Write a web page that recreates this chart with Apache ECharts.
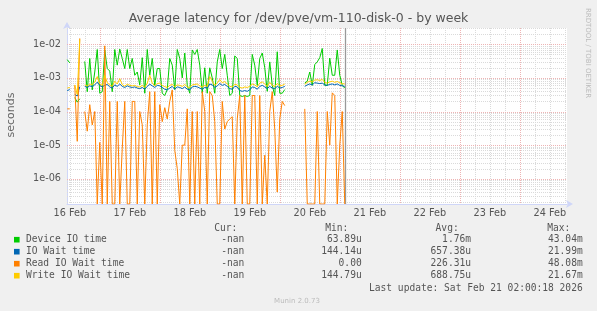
<!DOCTYPE html>
<html><head><meta charset="utf-8">
<script src="https://cdn.jsdelivr.net/npm/echarts@6/dist/echarts.min.js"></script>
<style>html,body{margin:0;padding:0;background:#F0F0F0}#c{width:597px;height:311px}</style>
</head><body><div id="c"></div><script>
// hours since 16 Feb 00:00, one sample per hour starting at hour 11
const startHour = 11;
const dayLabels = ['16 Feb','17 Feb','18 Feb','19 Feb','20 Feb','21 Feb','22 Feb','23 Feb','24 Feb'];
const labelHours = [12, 36, 60, 84, 108, 132, 156, 180, 204];
const yTickLabels = ['1e-06','1e-05','1e-04','1e-03','1e-02'];

const deviceIO = [3.5e-3, 2.8e-3, null, 2.6e-4, 1.9e-4, 2.4e-4, null,
 3.1e-3, 3.9e-4, 3.8e-3, 4.4e-4, 1.5e-3, 7e-3, 3.5e-4, 3.9e-4, 6.8e-3, 1.9e-3,
 1.6e-3, 3.9e-4, 7e-3, 2.4e-3, 7.2e-3, 3.8e-3, 1.9e-3, 7e-3, 1.9e-3, 3.8e-3,
 1.2e-3, 1.5e-3, 6.2e-4, 4e-3, 3.5e-4, 7e-3, 1.2e-3, 3.8e-3, 6e-4, 1.9e-3,
 1.9e-3, 3.5e-4, 3e-4, 4.5e-4, 3.8e-3, 2.4e-3, 4.5e-4, 7e-3, 3.8e-3, 1e-3,
 5.5e-3, 6e-4, 3.5e-4, 6.8e-3, 5e-3, 7e-3, 2.4e-3, 3.5e-4, 2e-3, 3.5e-4,
 2e-3, 1e-3, 3.5e-4, 3e-3, 7e-3, 1.9e-3, 5e-3, 1.2e-3, 3e-4, 3.5e-4,
 4.5e-3, 3.8e-3, 3e-4, 2.8e-4, 3e-4, 2.8e-4, 3e-4, 5e-3, 2.4e-3, 6e-4,
 3.8e-3, 5.5e-3, 2e-3, 4e-4, 3e-3, 6e-4, 3e-4, 6e-3, 3.5e-4, 3.5e-4, 4.5e-4,
 null, null, null, null, null, null, null,
 7e-4, 8e-4, 1.5e-3, 6e-4, 2.5e-3, 3e-3, 4e-3, 7.5e-3, 6e-4, 6e-4, 3.9e-3, 1.2e-3, 1.2e-3, 6.8e-3, 1.2e-3, 6e-4, 5e-4];

const ioWait = [4.2e-4, 4.5e-4, null, 3.2e-4, 2.9e-4, 5.5e-4, null,
 5.6e-4, 5.2e-4, 5.8e-4, 5.5e-4, 6.2e-4, 7.5e-4, 6e-4, 5.4e-4, 6e-4, 6.4e-4,
 5.4e-4, 5e-4, 6.2e-4, 5.6e-4, 6.6e-4, 5.6e-4, 5.2e-4, 5.8e-4, 5.4e-4, 5.2e-4,
 5.4e-4, 5e-4, 4.8e-4, 5.2e-4, 4.6e-4, 5.6e-4, 6.5e-4, 5.8e-4, 5.2e-4, 6e-4,
 5.8e-4, 5.2e-4, 4.6e-4, 4.4e-4, 5e-4, 5.6e-4, 4.6e-4, 5.4e-4, 5.2e-4, 4.8e-4,
 5.4e-4, 4.6e-4, 4.4e-4, 5.4e-4, 5.6e-4, 5.4e-4, 5e-4, 4.6e-4, 5.2e-4, 5e-4,
 6.6e-4, 6.2e-4, 5.2e-4, 5.8e-4, 6.8e-4, 6e-4, 6.4e-4, 5.6e-4, 4.8e-4, 4.6e-4,
 5.6e-4, 5.4e-4, 4.2e-4, 4e-4, 4.2e-4, 4e-4, 4.4e-4, 5.4e-4, 5.2e-4, 4.6e-4,
 5.6e-4, 6e-4, 5.4e-4, 4.8e-4, 5.6e-4, 5e-4, 4.8e-4, 5.6e-4, 5e-4, 5.2e-4, 5.6e-4,
 null, null, null, null, null, null, null,
 5.6e-4, 6.2e-4, 6.6e-4, 6.2e-4, 7.2e-4, 7e-4, 6.8e-4, 7e-4, 6.2e-4, 6e-4, 6.4e-4, 6.6e-4, 6.2e-4, 6.6e-4, 6e-4, 5.8e-4, 5.6e-4];

const readWait = [1.2e-4, 1.2e-4, null, 6e-4, 1.3e-5, 1.5e-2, null,
 1e-4, 2.6e-5, 1.6e-4, 4e-5, 1e-4, 0, 1.2e-5, 0, 9e-3, 0,
 2e-4, 0, 0, 2e-4, 0, 8e-6, 2e-4, 0, 0, 2e-4,
 2e-4, 0, 1e-4, 4e-5, 0, 4e-5, 3.9e-4, 0, 3.9e-4, 0,
 1.6e-4, 5e-5, 1.3e-4, 6e-5, 2e-4, 4.4e-4, 7e-6, 2e-6, 0, 1e-5,
 1e-5, 1.2e-4, 0, 1e-4, 0, 1e-4, 0, 3.9e-4, 1e-4, 0,
 3.9e-4, 3e-4, 5e-5, 0, 0, 2e-4, 3e-5, 5e-5, 6e-5, 7e-5,
 0, 6e-5, 3e-4, 0, 3e-4, 0, 0, 3e-4, 3e-4, 0,
 3e-4, 0, 5e-6, 0, 1e-4, 3.9e-4, 3e-5, 4e-7, 6e-5, 2e-4, 1.5e-4,
 null, null, null, null, null, null, null,
 1.2e-4, 0, 0, 0, 0, 1e-4, 0, 0, 0, 1e-4, 1e-5, 3.6e-4, 3e-4, 0, 1e-5, 1e-4, 0];

const writeWait = [5e-4, 5.2e-4, null, 6.2e-4, 3.2e-4, 1.4e-2, null,
 6.2e-4, 5.8e-4, 6.5e-4, 6.4e-4, 7.5e-4, 1.1e-3, 6.6e-4, 6e-4, 1.2e-3, 7.2e-4,
 6.2e-4, 5.6e-4, 8e-4, 6.6e-4, 9.5e-4, 6.3e-4, 5.7e-4, 6.5e-4, 6e-4, 5.8e-4,
 6e-4, 5.5e-4, 5.4e-4, 6e-4, 5.2e-4, 7e-4, 1.2e-3, 7e-4, 5.8e-4, 6.8e-4,
 7e-4, 6e-4, 5.5e-4, 5.2e-4, 6e-4, 6.4e-4, 5.5e-4, 6.2e-4, 6e-4, 5.6e-4,
 6.4e-4, 5.4e-4, 5.2e-4, 6.2e-4, 6.4e-4, 6.6e-4, 5.8e-4, 5.4e-4, 6e-4, 5.6e-4,
 1.1e-3, 8e-4, 6e-4, 7e-4, 9e-4, 7.2e-4, 7.8e-4, 6.6e-4, 5.6e-4, 5.4e-4,
 6.4e-4, 6.2e-4, 5.2e-4, 5e-4, 5.4e-4, 5.2e-4, 5.6e-4, 6.6e-4, 6.2e-4, 5.4e-4,
 7e-4, 7.6e-4, 6.6e-4, 5.6e-4, 7.4e-4, 6e-4, 5.6e-4, 6.8e-4, 5.8e-4, 6e-4, 6.6e-4,
 null, null, null, null, null, null, null,
 6.4e-4, 7.4e-4, 8e-4, 7.6e-4, 8.6e-4, 8.8e-4, 8.4e-4, 9e-4, 7.4e-4, 7e-4, 7.6e-4, 8e-4, 7.4e-4, 7.8e-4, 7.2e-4, 6.8e-4, 6.6e-4];

const seriesNames = ['Device IO time','IO Wait time','Read IO Wait time','Write IO Wait time'];
const seriesColors = ['#00CC00','#0066B3','#FF8000','#FFCC00'];
const curVals = ['-nan','-nan','-nan','-nan'];
const minVals = ['63.89u','144.14u','0.00','144.79u'];
const avgVals = ['1.76m','657.38u','226.31u','688.75u'];
const maxVals = ['43.04m','21.99m','48.08m','21.67m'];
const lastUpdate = 'Last update: Sat Feb 21 02:00:18 2026';
const nowHour = 122.3;

const X_MIN = 10.9, X_MAX = 210.9, Y_MIN = 1.77e-7, Y_MAX = 3.06e-2;
const G_LEFT = 67, G_TOP = 28, G_W = 500, G_H = 176;

function toPairs(arr){
  return arr.map((v,i)=>[startHour+i, v===null ? null : Math.max(v, Y_MIN)]);
}
const allSeries = [deviceIO, ioWait, readWait, writeWait];

// grid line positions: kind 1 = minor, 2 = major, 3 = "now" rule
const vLines = [];
for (let h = 6; h < X_MAX; h += 6) {
  if (h <= X_MIN) continue;
  vLines.push([h, Y_MIN, (h % 24 === 0) ? 2 : 1]);
}
vLines.push([nowHour, Y_MIN, 3]);
const hLines = [];
for (let e = -7; e <= -2; e++) {
  for (let m = 1; m <= 9; m++) {
    const v = m * Math.pow(10, e);
    if (v <= Y_MIN || v >= Y_MAX) continue;
    hLines.push([X_MIN, v, m === 1 ? 2 : 1]);
  }
}
const MINOR = '#dadada', MAJOR = '#eeb4b4';
function lineStyleFor(kind){
  if (kind === 3) return {stroke:'#999999', lineWidth:1.3};
  return {stroke: kind === 2 ? MAJOR : MINOR, lineWidth:1, lineDash:[1,1]};
}

const FONT = 'DejaVu Sans';
const MONO = 'DejaVu Sans Mono';
const TXT = '#555';

const graphics = [
  {type:'text', left:'center', top:12, style:{text:'Average latency for /dev/pve/vm-110-disk-0 - by week', font:'12.5px "'+FONT+'"', fill:TXT}},
  {type:'text', x:11, y:115, rotation:Math.PI/2, style:{text:'seconds', font:'11px "'+FONT+'"', fill:'#666', align:'center', verticalAlign:'middle'}},
  {type:'text', x:588, y:53, rotation:-Math.PI/2, style:{text:'RRDTOOL / TOBI OETIKER', font:'7px "'+FONT+'"', fill:'#bbb', align:'center', verticalAlign:'middle'}},
  {type:'text', x:297, y:301, style:{text:'Munin 2.0.73', font:'7px "'+FONT+'"', fill:'#bbb', align:'center', verticalAlign:'middle'}},
  {type:'text', x:237.3, y:228, style:{text:'Cur:', font:'9.6px "'+MONO+'"', fill:TXT, align:'right', verticalAlign:'middle'}},
  {type:'text', x:348.3, y:228, style:{text:'Min:', font:'9.6px "'+MONO+'"', fill:TXT, align:'right', verticalAlign:'middle'}},
  {type:'text', x:458.7, y:228, style:{text:'Avg:', font:'9.6px "'+MONO+'"', fill:TXT, align:'right', verticalAlign:'middle'}},
  {type:'text', x:570.3, y:228, style:{text:'Max:', font:'9.6px "'+MONO+'"', fill:TXT, align:'right', verticalAlign:'middle'}},
  {type:'text', x:582.7, y:288, style:{text:lastUpdate, font:'9.6px "'+MONO+'"', fill:TXT, align:'right', verticalAlign:'middle'}}
];
seriesNames.forEach((n,i)=>{
  const y = 239.7 + i*12;
  graphics.push({type:'rect', shape:{x:14, y:y-2.8, width:5.6, height:5.6}, style:{fill:seriesColors[i]}});
  graphics.push({type:'text', x:26, y:y, style:{text:n, font:'9.6px "'+MONO+'"', fill:TXT, verticalAlign:'middle'}});
  graphics.push({type:'text', x:244.3, y:y, style:{text:curVals[i], font:'9.6px "'+MONO+'"', fill:TXT, align:'right', verticalAlign:'middle'}});
  graphics.push({type:'text', x:361.7, y:y, style:{text:minVals[i], font:'9.6px "'+MONO+'"', fill:TXT, align:'right', verticalAlign:'middle'}});
  graphics.push({type:'text', x:471, y:y, style:{text:avgVals[i], font:'9.6px "'+MONO+'"', fill:TXT, align:'right', verticalAlign:'middle'}});
  graphics.push({type:'text', x:582.7, y:y, style:{text:maxVals[i], font:'9.6px "'+MONO+'"', fill:TXT, align:'right', verticalAlign:'middle'}});
});

const chart = echarts.init(document.getElementById('c'), null, {renderer:'canvas'});
const dataSeries = allSeries.map((arr,i)=>({
  name: seriesNames[i], type:'line', data: toPairs(arr), showSymbol:false, symbol:'none',
  connectNulls:false, clip:true, z: 3 + i, animation:false,
  lineStyle:{color:seriesColors[i], width:1}, itemStyle:{color:seriesColors[i]}
}));
const gridSeries = [
  {type:'custom', silent:true, z:1, animation:false, data:vLines, encode:{x:0, y:1},
    renderItem:(params, api)=>{
      const h = api.value(0), kind = api.value(2);
      const a = api.coord([h, Y_MAX]), b = api.coord([h, Y_MIN]);
      const x = Math.round(a[0]) + 0.5;
      return {type:'line', shape:{x1:x, y1:a[1], x2:x, y2:b[1]}, style:lineStyleFor(kind), z2: kind};
    }},
  {type:'custom', silent:true, z:1, animation:false, data:hLines, encode:{x:0, y:1},
    renderItem:(params, api)=>{
      const v = api.value(1), kind = api.value(2);
      const a = api.coord([X_MIN, v]), b = api.coord([X_MAX, v]);
      const y = Math.round(a[1]) + 0.5;
      return {type:'line', shape:{x1:a[0], y1:y, x2:b[0], y2:y}, style:lineStyleFor(kind), z2: kind};
    }}
];
chart.setOption({
  backgroundColor:'#F0F0F0',
  animation:false,
  grid:{left:G_LEFT, top:G_TOP, width:G_W, height:G_H, show:true, backgroundColor:'#FFFFFF', borderWidth:0},
  xAxis:{type:'value', min:X_MIN, max:X_MAX,
    axisLine:{show:true, lineStyle:{color:'#CFD6F8', width:1}, symbol:['none','arrow'], symbolSize:[6,7], symbolOffset:[0,6]},
    axisTick:{show:false}, splitLine:{show:false},
    axisLabel:{customValues:labelHours, formatter:(v)=>dayLabels[labelHours.indexOf(v)] || '', color:'#555', fontFamily:FONT, fontSize:9.7, margin:4}
  },
  yAxis:{type:'log', logBase:10, min:Y_MIN, max:Y_MAX,
    axisLine:{show:true, lineStyle:{color:'#CFD6F8', width:1}, symbol:['none','arrow'], symbolSize:[6,7], symbolOffset:[0,6]},
    axisTick:{show:false}, splitLine:{show:false}, minorTick:{show:false},
    axisLabel:{showMinLabel:false, showMaxLabel:false, color:'#555', fontFamily:FONT, fontSize:9.7, margin:6,
      formatter:(v)=>{ const e = Math.round(Math.log10(v)); return yTickLabels[e + 6] || ''; }}
  },
  graphic: graphics,
  series: gridSeries.concat(dataSeries)
});
</script></body></html>
